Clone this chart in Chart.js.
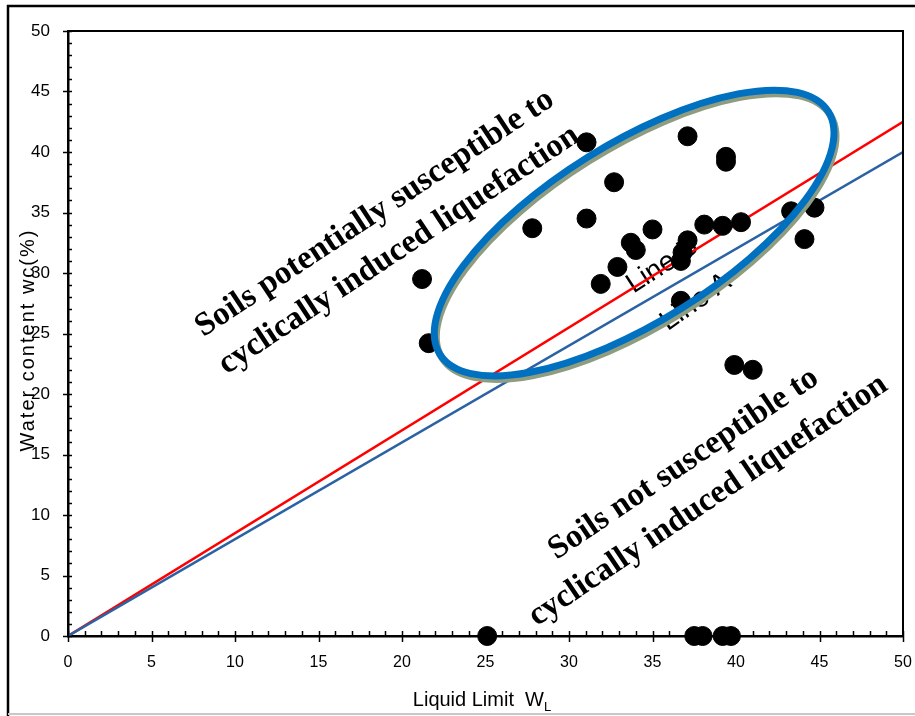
<!DOCTYPE html>
<html>
<head>
<meta charset="utf-8">
<script src="https://cdn.jsdelivr.net/npm/chart.js@4.4.1/dist/chart.umd.min.js"></script>
<style>
  html, body { margin: 0; padding: 0; background: #fff; }
  #wrap { width: 915px; height: 716px; }
</style>
</head>
<body>
<div id="wrap"><canvas id="chart" width="915" height="716"></canvas></div>
<script>
// Liquid limit (x) and water content (y) of the tested soils
const liquidLimit = [31.05, 37.1, 39.4, 39.4, 32.7, 27.8, 31.05, 35.0, 38.1, 39.2, 40.3, 43.3, 44.7, 44.1,
  33.7, 34.0, 37.1, 36.8, 36.7, 32.9, 31.9, 36.7, 21.2, 21.6, 39.9, 41.0, 25.1, 37.5, 38.0, 39.2, 39.7];
const waterContent = [40.8, 41.3, 39.6, 39.2, 37.5, 33.7, 34.5, 33.6, 34.0, 33.9, 34.2, 35.1, 35.4, 32.8,
  32.5, 31.9, 32.7, 31.7, 31.0, 30.5, 29.1, 27.7, 29.5, 24.2, 22.4, 22.0, 0, 0, 0, 0, 0];

// boundary lines through the origin
const lineX = [0, 50];
const lineA = [0, 40];
const lineB = [0, 42.5];

const xTicks = [0, 5, 10, 15, 20, 25, 30, 35, 40, 45, 50];
const yTicks = [0, 5, 10, 15, 20, 25, 30, 35, 40, 45, 50];

const toXY = (xs, ys) => xs.map((x, i) => ({ x, y: ys[i] }));

// annotation texts, anchored in data units
const zoneNotes = [
  { lines: ["Soils potentially susceptible to", "cyclically induced liquefaction"], x: 19.1, y: 33.4, angle: -33.5 },
  { lines: ["Soils not susceptible to", "cyclically induced liquefaction"], x: 37.6, y: 12.7, angle: -34 }
];
const lineNotes = [
  { text: "Line B", x: 35.6, y: 30.6, angle: -33 },
  { text: "Line A", x: 37.6, y: 27.6, angle: -35 }
];
const ring = { x: 33.9, y: 33.3, rx: 229, ry: 89, angle: -32 };

const sans = "'Liberation Sans', Arial, sans-serif";
const serif = "'Liberation Serif', 'Times New Roman', serif";

const decorations = {
  id: "decorations",
  beforeDatasetsDraw(chart) {
    const { ctx, scales: { x, y } } = chart;
    ctx.save();
    ctx.fillStyle = "#000";
    ctx.textAlign = "center";
    ctx.textBaseline = "middle";

    zoneNotes.forEach(n => {
      ctx.save();
      ctx.translate(x.getPixelForValue(n.x), y.getPixelForValue(n.y));
      ctx.rotate(n.angle * Math.PI / 180);
      ctx.font = "bold 33px " + serif;
      ctx.fillText(n.lines[0], 0, -22);
      ctx.fillText(n.lines[1], 0, 22);
      ctx.restore();
    });

    lineNotes.forEach(n => {
      ctx.save();
      ctx.translate(x.getPixelForValue(n.x), y.getPixelForValue(n.y));
      ctx.rotate(n.angle * Math.PI / 180);
      ctx.font = "28px " + sans;
      ctx.fillText(n.text, 0, 0);
      ctx.restore();
    });
    ctx.restore();
  },
  afterDatasetsDraw(chart) {
    const { ctx, scales: { x, y } } = chart;
    const cx = x.getPixelForValue(ring.x), cy = y.getPixelForValue(ring.y);
    const rot = ring.angle * Math.PI / 180;
    ctx.save();
    ctx.lineWidth = 7;
    ctx.strokeStyle = "#8e9c80";
    ctx.beginPath();
    ctx.ellipse(cx + 2, cy + 3.5, ring.rx, ring.ry, rot, 0, Math.PI * 2);
    ctx.stroke();
    ctx.strokeStyle = "#0070c0";
    ctx.beginPath();
    ctx.ellipse(cx, cy, ring.rx, ring.ry, rot, 0, Math.PI * 2);
    ctx.stroke();
    ctx.restore();
  },
  afterDraw(chart) {
    const { ctx, chartArea: a, scales: { x, y } } = chart;
    ctx.save();
    ctx.strokeStyle = "#000";
    ctx.lineWidth = 1.5;
    // minor and major tick marks
    for (let v = 0; v <= 50; v++) {
      const major = v % 5 === 0;
      const py = Math.round(y.getPixelForValue(v)) + 0.5;
      ctx.beginPath();
      ctx.moveTo(major ? a.left - 5 : a.left, py);
      ctx.lineTo(a.left + 4, py);
      ctx.stroke();
      const px = Math.round(x.getPixelForValue(v)) + 0.5;
      ctx.beginPath();
      ctx.moveTo(px, a.bottom - 5);
      ctx.lineTo(px, major ? a.bottom + 6 : a.bottom);
      ctx.stroke();
    }
    // plot frame top and right
    ctx.lineWidth = 2;
    ctx.beginPath();
    ctx.moveTo(a.left, a.top);
    ctx.lineTo(a.right, a.top);
    ctx.lineTo(a.right, a.bottom);
    ctx.stroke();
    // outer picture frame
    ctx.lineWidth = 2.5;
    ctx.beginPath();
    ctx.moveTo(8, 716);
    ctx.lineTo(8, 6);
    ctx.lineTo(915, 6);
    ctx.stroke();
    ctx.strokeStyle = "#c8c8c8";
    ctx.lineWidth = 2;
    ctx.beginPath();
    ctx.moveTo(8, 714);
    ctx.lineTo(915, 714);
    ctx.stroke();

    // axis titles
    ctx.fillStyle = "#000";
    ctx.textBaseline = "middle";
    ctx.font = "20px " + sans;
    const main = "Liquid Limit  W";
    const w1 = ctx.measureText(main).width;
    ctx.font = "13px " + sans;
    const w2 = ctx.measureText("L").width;
    const sx = 482 - (w1 + w2) / 2;
    ctx.textAlign = "left";
    ctx.font = "20px " + sans;
    ctx.fillText(main, sx, 700);
    ctx.font = "13px " + sans;
    ctx.fillText("L", sx + w1, 707);

    ctx.save();
    ctx.translate(28, 340);
    ctx.rotate(-Math.PI / 2);
    ctx.textAlign = "center";
    ctx.font = "20px " + sans;
    ctx.letterSpacing = "2px";
    ctx.fillText("Water content wc(%)", 0, 0);
    ctx.restore();
    ctx.restore();
  }
};

new Chart(document.getElementById("chart"), {
  type: "scatter",
  data: {
    datasets: [
      {
        type: "line",
        label: "Line B",
        data: toXY(lineX, lineB),
        borderColor: "#ff0000",
        borderWidth: 2.5,
        pointRadius: 0,
        fill: false,
        order: 3
      },
      {
        type: "line",
        label: "Line A",
        data: toXY(lineX, lineA),
        borderColor: "#2a62a4",
        borderWidth: 2.5,
        pointRadius: 0,
        fill: false,
        order: 2
      },
      {
        label: "Soils",
        data: toXY(liquidLimit, waterContent),
        backgroundColor: "#000",
        borderColor: "#000",
        pointRadius: 9.5,
        pointHoverRadius: 9.5,
        clip: false,
        order: 1
      }
    ]
  },
  options: {
    responsive: false,
    animation: false,
    events: [],
    layout: { padding: { left: 0, top: 31, right: 12, bottom: 0 } },
    plugins: { legend: { display: false }, tooltip: { enabled: false } },
    scales: {
      x: {
        type: "linear",
        min: 0, max: 50,
        afterFit: s => { s.height = 80; s.paddingLeft = 0; s.paddingRight = 0; },
        afterBuildTicks: s => { s.ticks = xTicks.map(v => ({ value: v })); },
        grid: { display: false },
        border: { display: true, color: "#000", width: 2.5 },
        ticks: { color: "#000", padding: 9, font: { family: sans, size: 16 }, maxRotation: 0 }
      },
      y: {
        type: "linear",
        min: 0, max: 50,
        afterFit: s => { s.width = 68; s.paddingTop = 0; s.paddingBottom = 0; },
        afterBuildTicks: s => { s.ticks = yTicks.map(v => ({ value: v })); },
        grid: { display: false },
        border: { display: true, color: "#000", width: 2.5 },
        ticks: { color: "#000", padding: 10, font: { family: sans, size: 17 } }
      }
    }
  },
  plugins: [decorations]
});
</script>
</body>
</html>
